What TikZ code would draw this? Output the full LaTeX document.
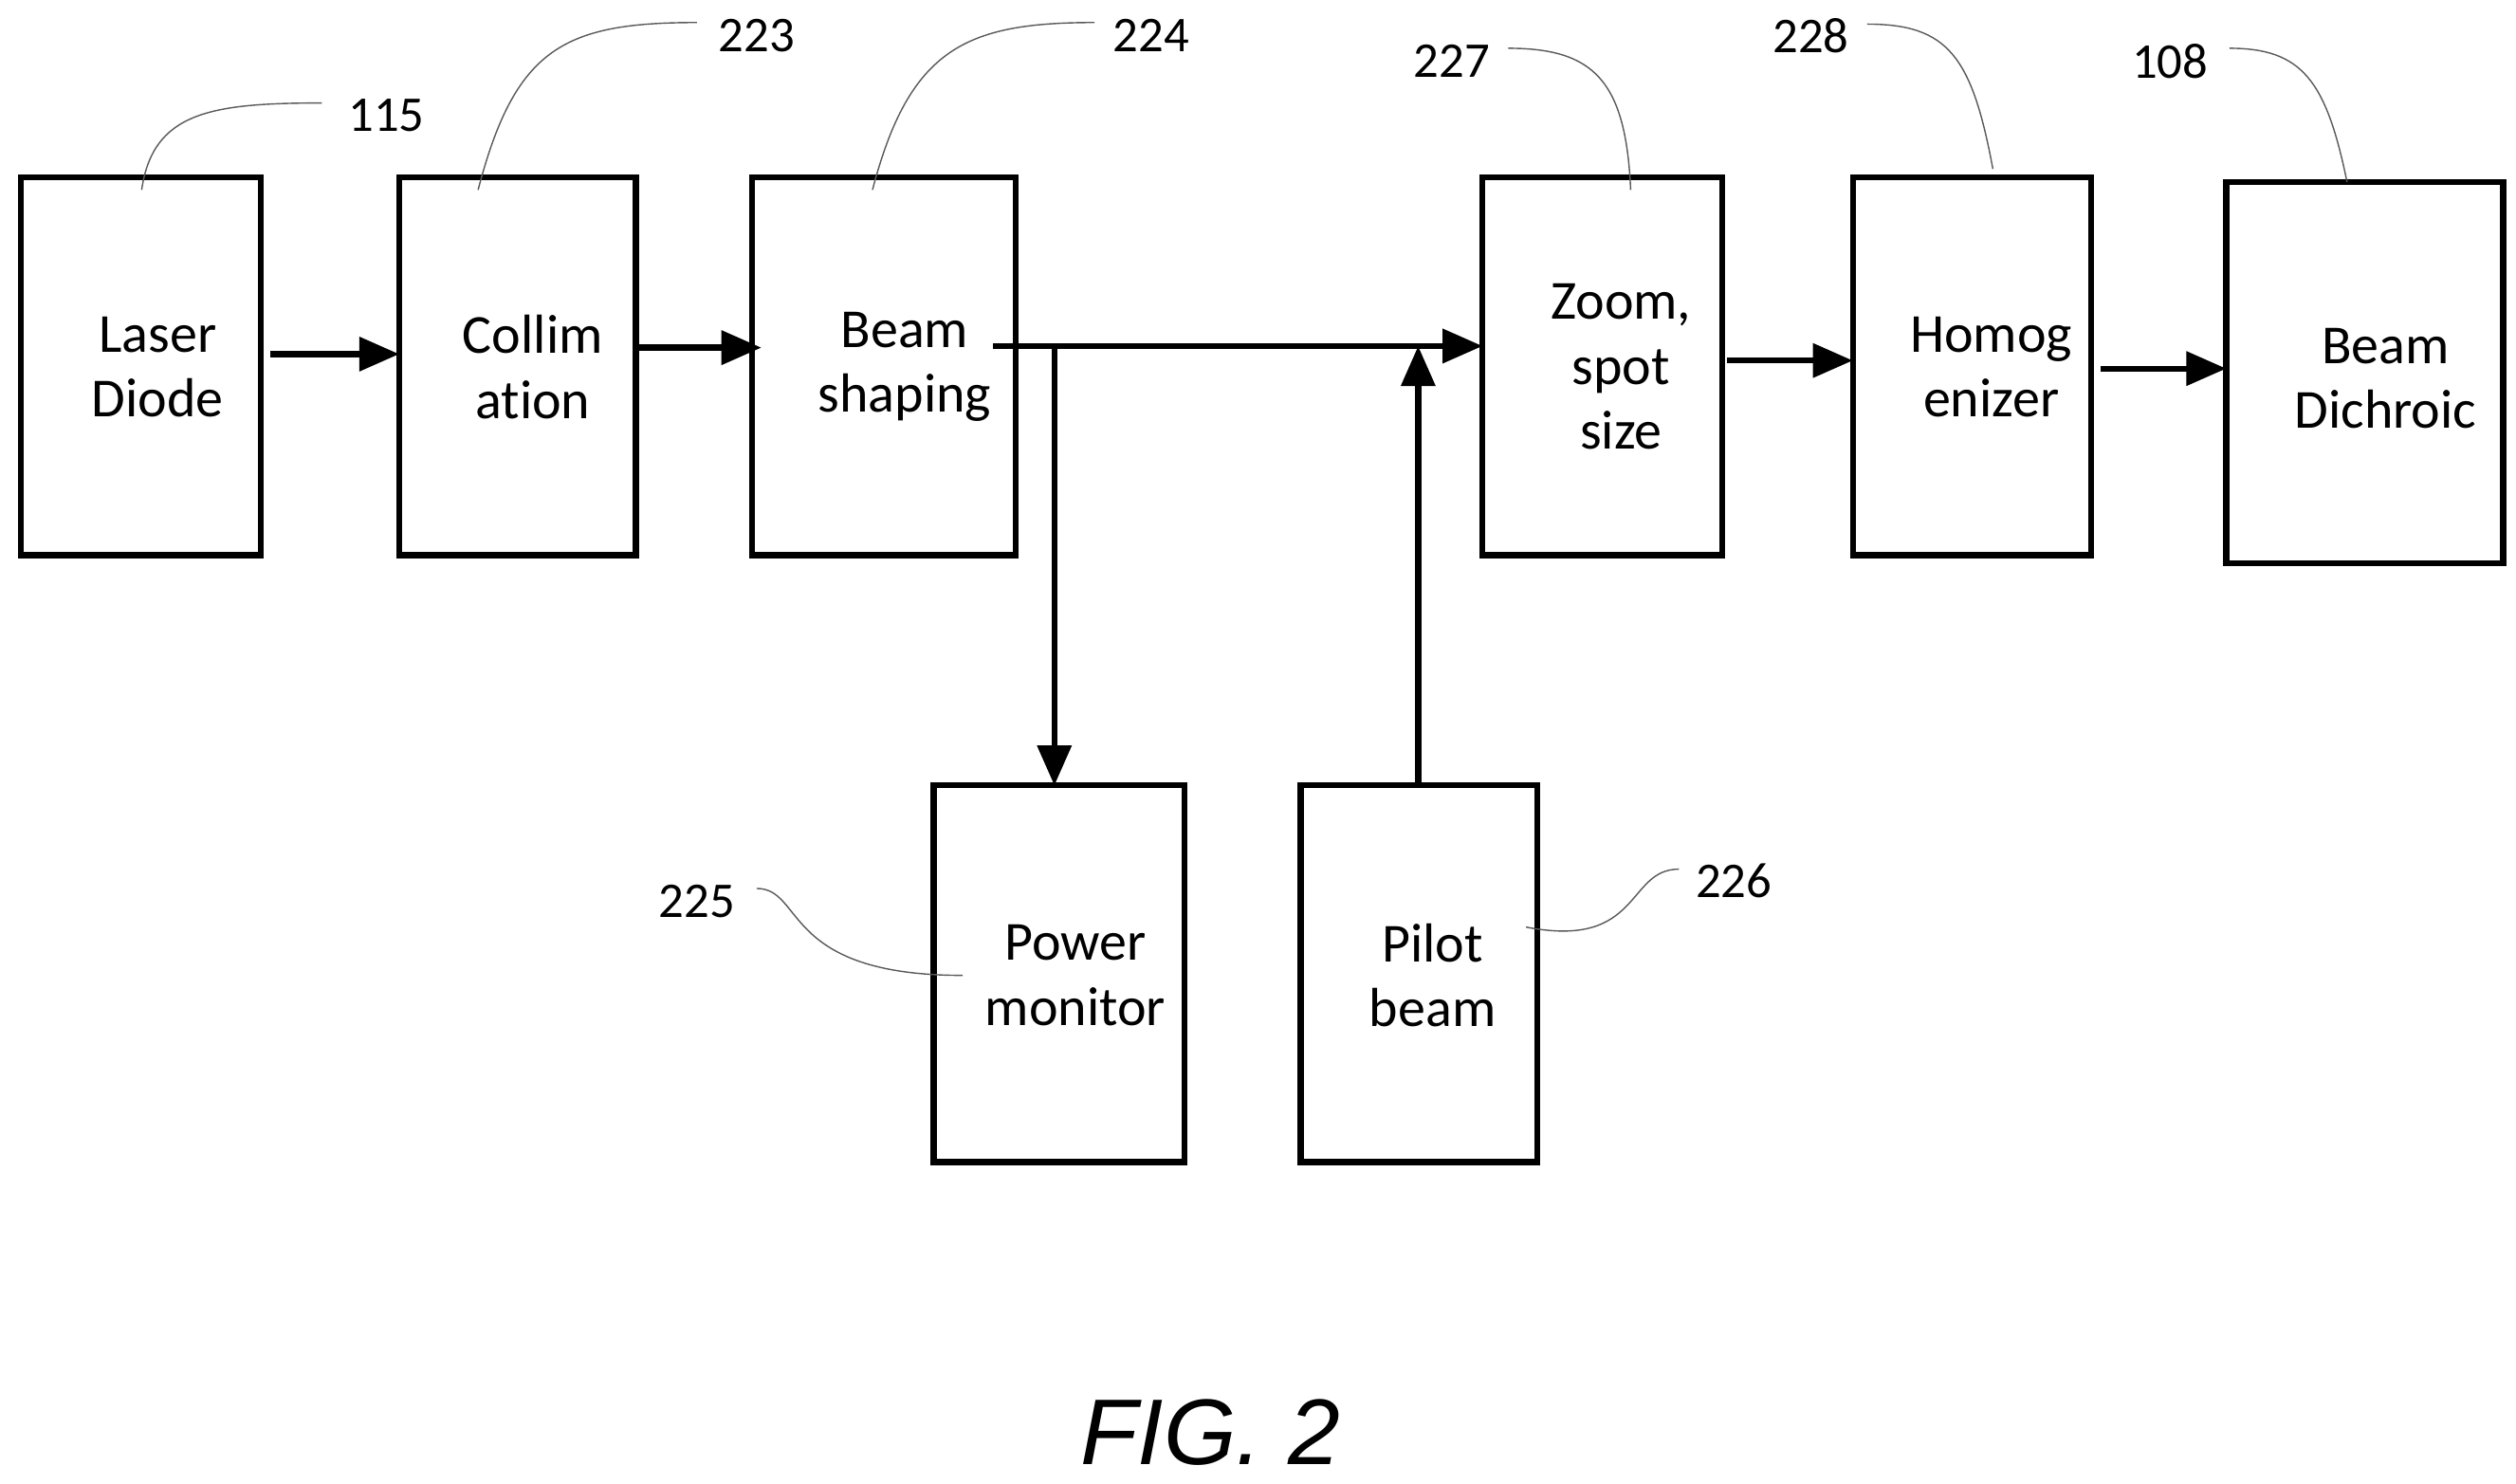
\documentclass[tikz,border=0pt]{standalone}
\usepackage{fontspec}
\setmainfont{Carlito}[Ligatures=CommonOff]
\newfontfamily\figfont{Liberation Sans}
\usetikzlibrary{arrows.meta}
\begin{document}
\begin{tikzpicture}[x=0.016974cm,y=-0.016974cm,
  box/.style={draw,line width=1.8pt},
  txt/.style={font=\fontsize{16.5}{19.5}\selectfont,align=center},
  lbl/.style={font=\fontsize{15}{18}\selectfont},
  arr/.style={line width=1.8pt,-{Triangle[length=12pt,width=10pt]}},
  lead/.style={line width=0.4pt,gray!70!black}]
\useasboundingbox (0,0) rectangle (1563,922);
\draw[box] (13,110) rectangle (162,345);
\node[txt] (ld) at (98,228) {Laser\\Diode};
\draw[box] (248,110) rectangle (395,345);
\node[txt] (co) at (331,228) {Collim\\ation};
\draw[box] (467,110) rectangle (631,345);
\node[txt] (bs) at (562,228) {Beam\\shaping};
\draw[box] (921,110) rectangle (1070,345);
\node[txt] (zo) at (1007,228) {Zoom,\\spot\\size};
\draw[box] (1151,110) rectangle (1299,345);
\node[txt] (ho) at (1237,228) {Homog\\enizer};
\draw[box] (1383,113) rectangle (1555,350);
\node[txt] (bd) at (1482,235) {Beam\\Dichroic};
\draw[box] (580,488) rectangle (736,722);
\node[txt] (pm) at (668,606) {Power\\monitor};
\draw[box] (808,488) rectangle (955,722);
\node[txt] (pb) at (890,606) {Pilot\\beam};
\coordinate (a1) at (168,220); \coordinate (a2) at (248,220);
\draw[arr] (a1) -- (a2);
\coordinate (b1) at (397,216); \coordinate (b2) at (473,216);
\draw[arr] (b1) -- (b2);
\coordinate (c1) at (617,215); \coordinate (c2) at (921,215);
\draw[arr] (c1) -- (c2);
\coordinate (d1) at (655,215); \coordinate (d2) at (655,488);
\draw[arr] (d1) -- (d2);
\coordinate (e1) at (881,488); \coordinate (e2) at (881,215);
\draw[arr] (e1) -- (e2);
\coordinate (f1) at (1073,224); \coordinate (f2) at (1151,224);
\draw[arr] (f1) -- (f2);
\coordinate (g1) at (1305,229); \coordinate (g2) at (1383,229);
\draw[arr] (g1) -- (g2);
\node[lbl] (l115) at (240,72) {115};
\draw[lead] (88,118) .. controls (95,70) and (130,64) .. (200,64);
\node[lbl] (l223) at (470,22) {223};
\draw[lead] (297,118) .. controls (320,30) and (350,14) .. (433,14);
\node[lbl] (l224) at (715,22) {224};
\draw[lead] (542,118) .. controls (565,30) and (600,14) .. (680,14);
\node[lbl] (l227) at (902,38) {227};
\draw[lead] (1013,118) .. controls (1010,50) and (990,30) .. (937,30);
\node[lbl] (l228) at (1125,22) {228};
\draw[lead] (1238,105) .. controls (1225,35) and (1210,15) .. (1160,15);
\node[lbl] (l108) at (1348,38) {108};
\draw[lead] (1458,113) .. controls (1445,50) and (1430,30) .. (1385,30);
\node[lbl] (l225) at (433,560) {225};
\draw[lead] (470,552) .. controls (500,552) and (485,606) .. (598,606);
\node[lbl] (l226) at (1077,547) {226};
\draw[lead] (1043,540) .. controls (1010,540) and (1020,590) .. (948,576);
\node[font=\figfont\itshape\fontsize{28}{34}\selectfont] (fig) at (752,890) {FIG. 2};
\end{tikzpicture}
\end{document}
